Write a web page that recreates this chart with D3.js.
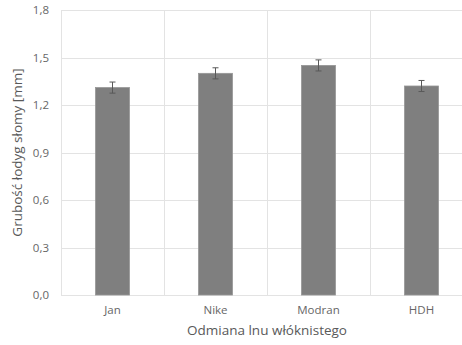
<!DOCTYPE html>
<html>
<head>
<meta charset="utf-8">
<script src="https://cdn.jsdelivr.net/npm/d3@7"></script>
<style>
  html, body { margin: 0; padding: 0; background: #fff; overflow: hidden; }
  svg { display: block; }
  text { font-family: "Open Sans", "Liberation Sans", sans-serif; fill: #595959; }
</style>
</head>
<body>
<div id="chart"></div>
<script>
// Stem thickness of fibre flax varieties
const categories = ["Jan", "Nike", "Modran", "HDH"];
const values = [1.31, 1.40, 1.45, 1.32];
const errors = [0.035, 0.035, 0.035, 0.035];
const yTicks = [0, 0.3, 0.6, 0.9, 1.2, 1.5, 1.8];

const width = 462, height = 345;
const margin = { top: 10, left: 61 };
const plotRight = 473, plotBottom = 295;

const svg = d3.select("#chart").append("svg")
  .attr("width", width).attr("height", height);

const x = d3.scaleBand().domain(categories).range([margin.left, plotRight]).paddingInner(0.67).paddingOuter(0.335);
const xCat = d3.scaleBand().domain(categories).range([margin.left, plotRight]);
const y = d3.scaleLinear().domain([0, 1.8]).range([plotBottom, margin.top]);

// horizontal gridlines
svg.append("g").selectAll("line").data(yTicks).join("line")
  .attr("x1", margin.left).attr("x2", plotRight)
  .attr("y1", d => Math.round(y(d)) + 0.5).attr("y2", d => Math.round(y(d)) + 0.5)
  .attr("stroke", "#e3e3e3").attr("stroke-width", 1);

// vertical category separators
const bounds = categories.map(c => xCat(c));
svg.append("g").selectAll("line").data(bounds).join("line")
  .attr("x1", d => Math.round(d) + 0.5).attr("x2", d => Math.round(d) + 0.5)
  .attr("y1", margin.top).attr("y2", plotBottom)
  .attr("stroke", "#e3e3e3").attr("stroke-width", 1);

// y axis labels
const yAxis = d3.axisLeft(y).tickValues(yTicks)
  .tickFormat(d => d3.format(".1f")(d).replace(".", ","))
  .tickSize(0).tickPadding(12);
const gy = svg.append("g").attr("transform", `translate(${margin.left},0)`).call(yAxis);
gy.select(".domain").remove();
gy.selectAll("text").attr("font-size", 11.5).style("fill", "#666")
  .attr("font-family", "'Open Sans', 'Liberation Sans', sans-serif");

// x axis labels
const xAxis = d3.axisBottom(xCat).tickSize(0).tickPadding(11);
const gx = svg.append("g").attr("transform", `translate(0,${plotBottom})`).call(xAxis);
gx.select(".domain").remove();
gx.selectAll("text").attr("font-size", 11.5).style("fill", "#666")
  .attr("font-family", "'Open Sans', 'Liberation Sans', sans-serif");

// bars
svg.append("g").selectAll("rect").data(values).join("rect")
  .attr("x", (d, i) => x(categories[i]))
  .attr("y", d => y(d))
  .attr("width", x.bandwidth())
  .attr("height", d => plotBottom - y(d))
  .attr("fill", "#7f7f7f")
  .attr("stroke", "#969696").attr("stroke-width", 0.8);

// error bars
const eb = svg.append("g").attr("stroke", "#595959").attr("stroke-width", 1);
values.forEach((v, i) => {
  const cx = x(categories[i]) + x.bandwidth() / 2;
  eb.append("line").attr("x1", cx).attr("x2", cx)
    .attr("y1", y(v + errors[i])).attr("y2", y(v - errors[i]));
  [v + errors[i], v - errors[i]].forEach(e => {
    eb.append("line").attr("x1", cx - 3).attr("x2", cx + 3)
      .attr("y1", y(e)).attr("y2", y(e));
  });
});

// axis titles
svg.append("text")
  .attr("transform", `translate(22,${(margin.top + plotBottom) / 2}) rotate(-90)`)
  .attr("text-anchor", "middle").attr("font-size", 13.5)
  .text("Grubość łodyg słomy [mm]");

svg.append("text")
  .attr("x", (margin.left + plotRight) / 2).attr("y", 335)
  .attr("text-anchor", "middle").attr("font-size", 13.5)
  .text("Odmiana lnu włóknistego");
</script>
</body>
</html>
